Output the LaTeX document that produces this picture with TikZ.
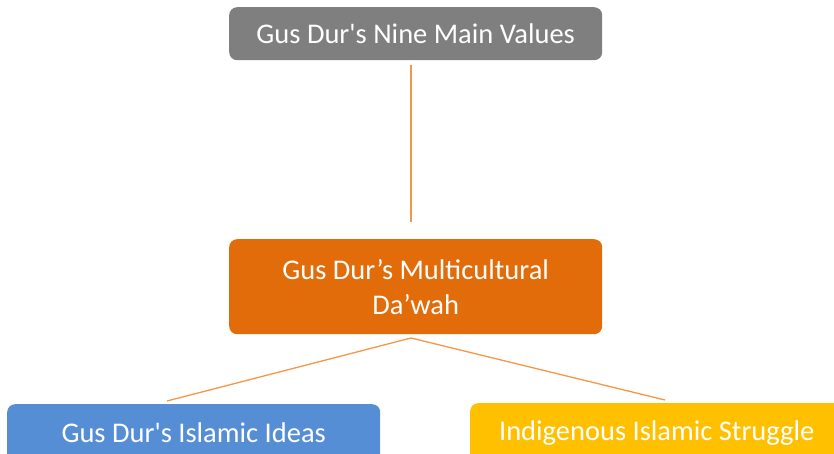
\documentclass[tikz,border=0pt]{standalone}
\usepackage{fontspec}
\setmainfont{Carlito}[Ligatures=TeXOff]
\definecolor{boxgray}{HTML}{7F7F7F}
\definecolor{boxorange}{HTML}{E36C0A}
\definecolor{boxblue}{HTML}{558ED5}
\definecolor{boxyellow}{HTML}{FFC000}
\definecolor{lineorange}{HTML}{F79646}
\begin{document}
\begin{tikzpicture}[x=1pt,y=-1pt,
  box/.style={draw=none, rounded corners=8pt, text=white, align=center,
    font=\fontsize{28.5}{35}\selectfont, inner sep=0pt, anchor=north west},
  link/.style={draw=lineorange, line width=1.3pt}]
\useasboundingbox (0,0) rectangle (834,454);
\clip (0,0) rectangle (834,454);
\node[box, fill=boxgray, minimum width=373pt, minimum height=53pt] (top) at (229,7) {Gus Dur's Nine Main Values};
\node[box, fill=boxorange, minimum width=373pt, minimum height=95pt] (mid) at (229,239) {Gus Dur’s Multicultural\\Da’wah};
\node[box, fill=boxblue, minimum width=373pt, minimum height=58pt] (left) at (7,404) {Gus Dur's Islamic Ideas};
\node[box, fill=boxyellow, minimum width=373pt, minimum height=60pt] (right) at (470,403) {Indigenous Islamic Struggle};
\coordinate (topfoot) at (411,65);
\coordinate (midhead) at (411,222);
\coordinate (midfoot) at (411,338);
\coordinate (lefthead) at (167,401);
\coordinate (righthead) at (665,400);
\draw[link] (topfoot) -- (midhead);
\draw[link] (midfoot) -- (lefthead);
\draw[link] (midfoot) -- (righthead);
\end{tikzpicture}
\end{document}
